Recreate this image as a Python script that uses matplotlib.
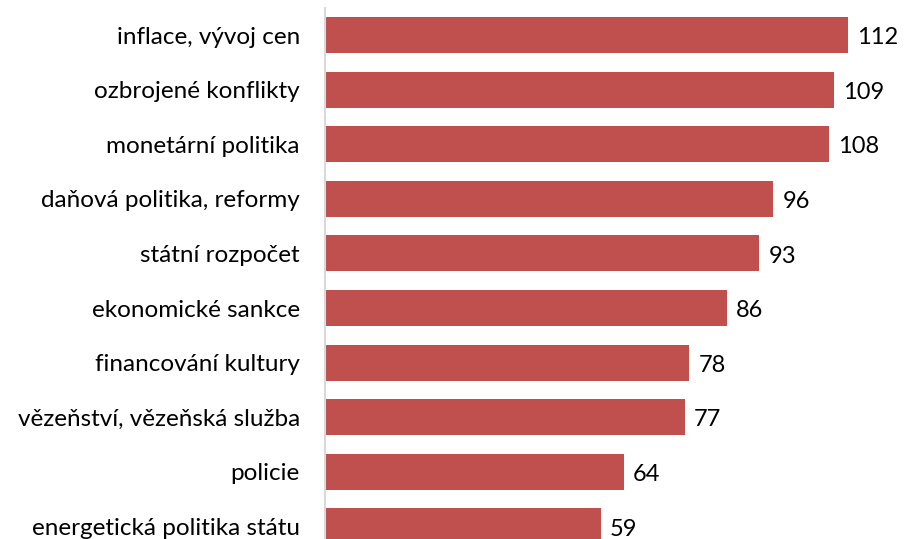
import matplotlib
matplotlib.use("Agg")
import matplotlib.pyplot as plt

# Data (top to bottom)
kategorie = [
    "inflace, vývoj cen",
    "ozbrojené konflikty",
    "monetární politika",
    "daňová politika, reformy",
    "státní rozpočet",
    "ekonomické sankce",
    "financování kultury",
    "vězeňství, vězeňská služba",
    "policie",
    "energetická politika státu",
]
hodnoty = [112, 109, 108, 96, 93, 86, 78, 77, 64, 59]

plt.rcParams['font.family'] = ['Lato', 'DejaVu Sans']

W, H = 906, 539
fig = plt.figure(figsize=(W / 100, H / 100), dpi=100)
# axes from the y-axis line (x=325px) to the right edge, top at 8px to the bottom
ax = fig.add_axes([325 / W, 0, 1 - 325 / W, (H - 8) / H])

pozice = list(range(len(kategorie)))
ax.barh(pozice, hodnoty, height=0.66, color="#C0504D", zorder=2)

ax.set_ylim(9.23, -0.495)
ax.set_xlim(0, 124.4)

for y, v in zip(pozice, hodnoty):
    ax.annotate(str(v), xy=(v, y + 0.05), xytext=(6.5, 0), textcoords="offset points",
                va="center", ha="left", fontsize=17, color="#000000")

ax.set_yticks(pozice)
ax.set_yticklabels(kategorie, fontsize=17.5, color="#000000")
ax.tick_params(axis="y", length=0, pad=18)
ax.set_xticks([])

for s in ["top", "right", "bottom"]:
    ax.spines[s].set_visible(False)
ax.spines["left"].set_color("#D9D9D9")
ax.spines["left"].set_linewidth(1.5)

fig.savefig("out.png", dpi=100)
